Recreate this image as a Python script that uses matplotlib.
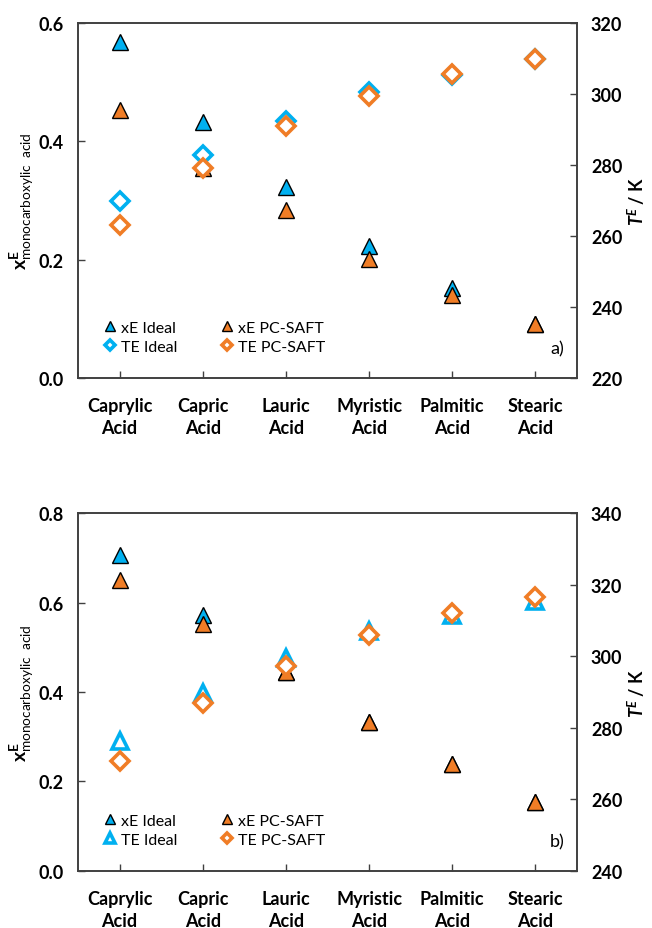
import numpy as np
import matplotlib
matplotlib.use("Agg")
import matplotlib.pyplot as plt

plt.rcParams['font.family'] = ['Lato', 'DejaVu Sans']
plt.rcParams['mathtext.fontset'] = 'custom'
plt.rcParams['mathtext.rm'] = 'Lato'
plt.rcParams['mathtext.it'] = 'Lato:italic'
plt.rcParams['mathtext.bf'] = 'Lato:bold'
plt.rcParams['mathtext.bfit'] = 'Lato:bold:italic'

acids = ['Caprylic\nAcid', 'Capric\nAcid', 'Lauric\nAcid',
         'Myristic\nAcid', 'Palmitic\nAcid', 'Stearic\nAcid']

# panel a)
xe_ideal_a = [0.568, 0.433, 0.323, 0.224, 0.153, 0.091]
xe_saft_a = [0.454, 0.355, 0.284, 0.201, 0.140, 0.091]
te_ideal_a = [269.8, 282.9, 292.5, 300.5, 305.5, 309.9]
te_saft_a = [263.2, 279.1, 291.1, 299.4, 305.6, 310.0]

# panel b)
xe_ideal_b = [0.707, 0.572, 0.445, 0.332, 0.239, 0.154]
xe_saft_b = [0.651, 0.552, 0.444, 0.332, 0.239, 0.154]
te_ideal_b = [276.3, 289.6, 299.4, 307.1, 311.5, 315.5]
te_saft_b = [270.8, 286.9, 297.3, 306.0, 312.1, 316.6]

blue = '#00B0F0'
orange = '#F07D26'
spine_col = '#404040'
x = np.arange(len(acids)) + 0.5

fig = plt.figure(figsize=(6.52, 9.29), dpi=100)


def panel(rect, xe_i, xe_s, te_i, te_s, ylim, tlim, te_ideal_marker, tag):
    ax = fig.add_axes(rect)
    ax2 = ax.twinx()
    h1, = ax.plot(x, xe_i, '^', ms=11, mfc=blue, mec='k', mew=1.0, ls='none')
    h2, = ax.plot(x, xe_s, '^', ms=11, mfc=orange, mec='k', mew=1.0, ls='none')
    if te_ideal_marker == 'D':
        h3, = ax2.plot(x, te_i, 'D', ms=9, mfc='white', mec=blue, mew=2.6, ls='none')
    else:
        h3, = ax2.plot(x, te_i, '^', ms=11, mfc='white', mec=blue, mew=2.6, ls='none')
    h4, = ax2.plot(x, te_s, 'D', ms=9, mfc='white', mec=orange, mew=2.6, ls='none')

    ax.set_xlim(0, 6)
    ax.set_ylim(*ylim)
    ax2.set_ylim(*tlim)
    yt = np.arange(ylim[0], ylim[1] + 0.01, 0.2)
    ax.set_yticks(yt)
    ax.set_yticklabels(['%.1f' % v for v in yt])
    ax2.set_yticks(np.arange(tlim[0], tlim[1] + 1, 20))
    ax.set_xticks(x)
    ax.set_xticklabels(acids, fontsize=13, fontweight='bold', linespacing=1.3)
    for a in (ax, ax2):
        a.tick_params(direction='in', length=5, width=1, color=spine_col)
        for s in a.spines.values():
            s.set_color(spine_col)
            s.set_linewidth(1.2)
        for t in a.get_yticklabels():
            t.set_fontsize(13)
            t.set_fontweight('bold')
    ax.tick_params(axis='x', pad=14)
    ax.tick_params(axis='y', pad=10)
    ax2.tick_params(axis='y', pad=10)

    ax.set_ylabel(r'$\mathbf{x}^{\mathbf{E}}_{\mathrm{monocarboxylic\ \ acid}}$', fontsize=14, labelpad=2)
    ax2.set_ylabel(r'$\mathbfit{T}^{\mathbfit{E}}$ / K', fontsize=13, fontweight='bold', labelpad=2)

    ax2.legend([h1, h3, h2, h4], ['xE Ideal', 'TE Ideal', 'xE PC-SAFT', 'TE PC-SAFT'],
               ncol=2, loc='lower left', bbox_to_anchor=(0.035, 0.05), frameon=False,
               fontsize=11.5, markerscale=0.6, handletextpad=0.2, handlelength=1.0,
               columnspacing=2.6, labelspacing=0.3, borderaxespad=0)
    ax2.text(0.975, 0.06, tag, transform=ax2.transAxes, ha='right', va='bottom', fontsize=13)
    return ax, ax2


panel([0.1196, 0.592, 0.7654, 0.382], xe_ideal_a, xe_saft_a, te_ideal_a, te_saft_a,
      (0.0, 0.6), (220, 320), 'D', 'a)')
panel([0.1196, 0.0614, 0.7654, 0.3853], xe_ideal_b, xe_saft_b, te_ideal_b, te_saft_b,
      (0.0, 0.8), (240, 340), '^', 'b)')

fig.savefig('out.png', dpi=100)
